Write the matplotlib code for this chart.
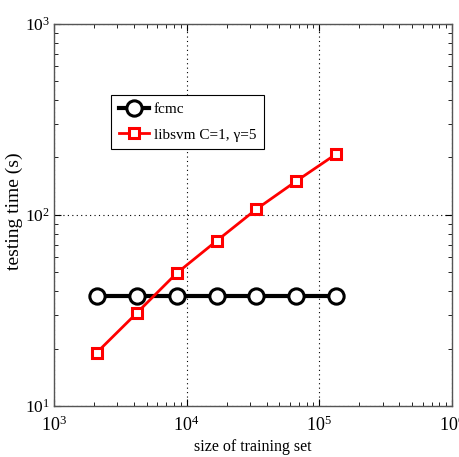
import matplotlib
matplotlib.use("Agg")
import matplotlib.pyplot as plt
from matplotlib.ticker import LogLocator, NullFormatter

plt.rcParams['font.family'] = ['Liberation Serif', 'DejaVu Serif']
plt.rcParams['mathtext.fontset'] = 'stix'

train_sizes = [2100, 4200, 8400, 16800, 33600, 67200, 134400]
fcmc_time = [37.5, 37.5, 37.5, 37.5, 37.5, 37.5, 37.5]
libsvm_time = [19.0, 30.6, 49.5, 73.1, 107.4, 150.7, 209.0]
series_labels = ["fcmc", "libsvm C=1, γ=5"]

fig = plt.figure(figsize=(4.6, 4.57), dpi=100)
ax = fig.add_axes([0.117, 0.1116, 0.866, 0.8359])

ax.plot(train_sizes, fcmc_time, color='black', lw=3, marker='o', ms=11,
        mfc='white', mec='black', mew=2.2, label=series_labels[0], zorder=3)
ax.plot(train_sizes, libsvm_time, color='red', lw=2, marker='s', ms=6.5,
        mfc='white', mec='red', mew=2.2, label=series_labels[1], zorder=3)

ax.set_xscale('log')
ax.set_yscale('log')
ax.set_xlim(1e3, 1e6)
ax.set_ylim(1e1, 1e3)

ax.xaxis.set_major_locator(LogLocator(base=10, numticks=10))
ax.yaxis.set_major_locator(LogLocator(base=10, numticks=10))
ax.xaxis.set_minor_locator(LogLocator(base=10, subs=range(2, 10), numticks=20))
ax.yaxis.set_minor_locator(LogLocator(base=10, subs=range(2, 10), numticks=20))
ax.xaxis.set_minor_formatter(NullFormatter())
ax.yaxis.set_minor_formatter(NullFormatter())

ax.tick_params(which='both', direction='in', top=True, right=True, labelsize=13)
ax.tick_params(axis='y', labelsize=12.5)
ax.tick_params(which='major', length=5, width=0.8)
ax.tick_params(which='minor', length=3, width=0.6)
ax.tick_params(axis='x', which='major', pad=7)
ax.tick_params(axis='y', which='major', pad=3)

ax.grid(True, which='major', linestyle=(0, (1, 3)), color='black', lw=0.8)
for sp in ax.spines.values():
    sp.set_color('#555555')
    sp.set_linewidth(1.0)

ax.set_xlabel("size of training set", fontsize=11.5, labelpad=3)
ax.set_ylabel("testing time (s)", fontsize=14)
ax.yaxis.set_label_coords(-0.078, 0.51)

leg = ax.legend(loc='upper left', bbox_to_anchor=(0.1432, 0.814), fontsize=11,
                fancybox=False, framealpha=1, edgecolor='black',
                handlelength=2.0, borderaxespad=0, labelspacing=0.75,
                handletextpad=0.3, borderpad=0.5)
leg.get_frame().set_linewidth(0.8)

fig.savefig("out.png", dpi=100)
